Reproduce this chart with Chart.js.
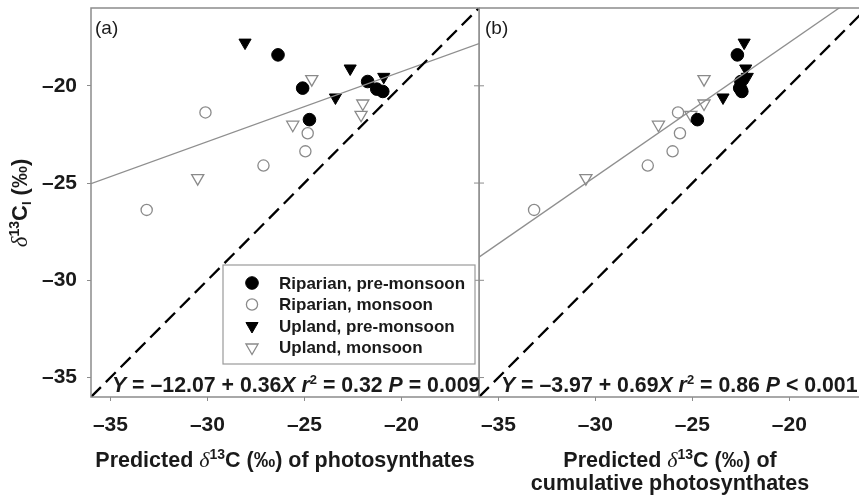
<!DOCTYPE html>
<html>
<head>
<meta charset="utf-8">
<script src="https://cdn.jsdelivr.net/npm/chart.js@4.4.0/dist/chart.umd.min.js"></script>
<style>
  body { margin: 0; background: #fff; width: 859px; height: 498px; overflow: hidden; position: relative; }
  #chartA { position: absolute; left: 0; top: 0; }
  #chartB { position: absolute; left: 479px; top: 0; }
</style>
</head>
<body>
<canvas id="chartA" width="480" height="498"></canvas>
<canvas id="chartB" width="380" height="498"></canvas>
<script>
// tick values
const xTicks = [-35, -30, -25, -20];
const yTicks = [-35, -30, -25, -20];
const seriesNames = ["Riparian, pre-monsoon", "Riparian, monsoon", "Upland, pre-monsoon", "Upland, monsoon"];

// measured d13C of leaves (shared by both panels)
const ripPreY = [-18.41, -20.12, -21.74, -19.78, -20.17, -20.29];
const ripMonY = [-21.37, -23.37, -22.44, -24.10, -26.38];
const upPreY = [-17.78, -19.11, -20.60, -19.54];
const upMonY = [-19.66, -22.00, -20.91, -21.49, -24.75];

// panel (a): predicted d13C of photosynthates
const ripPreXa = [-26.36, -25.09, -24.74, -21.74, -21.27, -20.96];
const ripMonXa = [-30.10, -24.95, -24.83, -27.11, -33.13];
const upPreXa = [-28.06, -22.64, -23.40, -20.91];
const upMonXa = [-24.62, -25.60, -21.99, -22.08, -30.50];

// panel (b): predicted d13C of cumulative photosynthates
const ripPreXb = [-22.68, -22.56, -24.74, -22.50, -22.50, -22.45];
const ripMonXb = [-25.74, -26.02, -25.64, -27.30, -33.16];
const upPreXb = [-22.33, -22.25, -23.42, -22.17];
const upMonXb = [-24.40, -26.75, -24.40, -25.08, -30.49];

// regression lines and 1:1 line (end points)
const fitAx = [-36, -16];
const fitAy = [-25.03, -17.83];
const fitBx = [-36, -16];
const fitBy = [-28.81, -15.01];
const oneToOne = [-36, -16];

const FONT = "'Liberation Sans', Arial, sans-serif";
const INK = "#1a1a1a";
const FRAME = "#8c8c8c";

const markStyles = [
  { pointStyle: "circle", radius: 6.3, bg: "#000", border: "#000", width: 1, rot: 0 },
  { pointStyle: "circle", radius: 5.6, bg: "#fff", border: "#8a8a8a", width: 1.3, rot: 0 },
  { pointStyle: "triangle", radius: 7, bg: "#000", border: "#000", width: 1, rot: 180 },
  { pointStyle: "triangle", radius: 7, bg: "#fff", border: "#8a8a8a", width: 1.3, rot: 180 }
];

function pts(xs, ys) {
  return xs.map((x, i) => ({ x: x, y: ys[i] }));
}

// draw a row of text pieces: [text, font, dy]
function drawRich(ctx, parts, x, y, align) {
  let w = 0;
  parts.forEach(p => { ctx.font = p[1]; w += ctx.measureText(p[0]).width; });
  let cx = align === "center" ? x - w / 2 : x;
  parts.forEach(p => {
    ctx.font = p[1];
    ctx.fillText(p[0], cx, y + (p[2] || 0));
    cx += ctx.measureText(p[0]).width;
  });
  return w;
}

function eqParts(intercept, slope, r2, pText) {
  const b = "bold 21.3px " + FONT;
  const bi = "italic bold 21.3px " + FONT;
  const sup = "bold 13px " + FONT;
  return [
    ["Y", bi], [" = \u2013" + intercept + " + " + slope, b], ["X", bi], [" ", b],
    ["r", bi], ["2", sup, -8], [" = " + r2 + " ", b], ["P", bi], [pText, b]
  ];
}

function titleParts(rest) {
  return [
    ["Predicted ", "bold 21.5px " + FONT],
    ["\u03b4", "italic 22px 'Liberation Serif', serif"],
    ["13", "bold 14px " + FONT, -8],
    [rest, "bold 21.5px " + FONT]
  ];
}

function buildChart(id, xs, fitX, fitY, xMax, isLeft, extra) {
  const ys = [ripPreY, ripMonY, upPreY, upMonY];
  const datasets = [
    { data: pts(oneToOne, oneToOne), showLine: true, borderColor: "#000", borderWidth: 2.3,
      borderDash: [14, 7], pointRadius: 0, fill: false },
    { data: pts(fitX, fitY), showLine: true, borderColor: "#8f8f8f", borderWidth: 1.3,
      pointRadius: 0, fill: false }
  ];
  seriesNames.forEach((name, i) => {
    const st = markStyles[i];
    datasets.push({
      label: name,
      data: pts(xs[i], ys[i]),
      showLine: false,
      pointStyle: st.pointStyle,
      pointRadius: st.radius,
      pointBackgroundColor: st.bg,
      pointBorderColor: st.border,
      pointBorderWidth: st.width,
      pointRotation: st.rot
    });
  });

  const framePlugin = {
    id: "frame",
    afterDraw(chart) {
      const ctx = chart.ctx;
      const a = chart.chartArea;
      ctx.save();
      ctx.strokeStyle = FRAME;
      ctx.lineWidth = 1.5;
      ctx.beginPath();
      if (isLeft) {
        ctx.rect(a.left, a.top, a.right - a.left, a.bottom - a.top);
      } else {
        ctx.moveTo(a.right + 2, a.top);
        ctx.lineTo(a.left, a.top);
        ctx.lineTo(a.left, a.bottom);
        ctx.lineTo(a.right + 2, a.bottom);
      }
      ctx.stroke();
      // ticks on the shared border
      const ysc = chart.scales.y;
      ctx.lineWidth = 1;
      yTicks.forEach(v => {
        const py = ysc.getPixelForValue(v);
        ctx.beginPath();
        if (isLeft) { ctx.moveTo(a.right - 5, py); ctx.lineTo(a.right, py); }
        else { ctx.moveTo(a.left, py); ctx.lineTo(a.left + 5, py); }
        ctx.stroke();
      });
      ctx.fillStyle = INK;
      ctx.textBaseline = "alphabetic";
      extra(ctx, chart);
      ctx.restore();
    }
  };

  return new Chart(document.getElementById(id), {
    type: "scatter",
    data: { datasets: datasets },
    options: {
      responsive: false,
      animation: false,
      events: [],
      layout: { autoPadding: false, padding: { left: 0, top: 8, right: isLeft ? 1 : 0, bottom: 0 } },
      plugins: { legend: { display: false }, tooltip: { enabled: false } },
      scales: {
        x: {
          type: "linear", min: -36, max: xMax,
          afterBuildTicks: s => { s.ticks = xTicks.map(v => ({ value: v })); },
          afterFit: s => { s.height = 101; s.paddingLeft = 0; s.paddingRight = 0; },
          ticks: { font: { family: FONT, size: 21, weight: "bold" }, color: INK, padding: 12,
                   callback: v => "\u2013" + Math.abs(v) },
          grid: { drawOnChartArea: false, tickLength: 4, color: FRAME },
          border: { display: false }
        },
        y: {
          type: "linear", display: isLeft, min: -36, max: -16,
          afterBuildTicks: s => { s.ticks = yTicks.map(v => ({ value: v })); },
          afterFit: s => { s.width = isLeft ? 91 : 0; s.paddingTop = 0; s.paddingBottom = 0; },
          ticks: { font: { family: FONT, size: 21, weight: "bold" }, color: INK, padding: 10,
                   callback: v => "\u2013" + Math.abs(v) },
          grid: { drawOnChartArea: false, tickLength: 4, color: FRAME },
          border: { display: false }
        }
      }
    },
    plugins: [framePlugin]
  });
}

// panel (a)
buildChart("chartA", [ripPreXa, ripMonXa, upPreXa, upMonXa], fitAx, fitAy, -16, true, (ctx, chart) => {
  ctx.font = "19px " + FONT;
  ctx.fillText("(a)", 95, 34);

  // legend box
  ctx.fillStyle = "#fff";
  ctx.fillRect(223, 265, 252, 99);
  ctx.strokeStyle = "#9a9a9a";
  ctx.lineWidth = 1.2;
  ctx.strokeRect(223, 265, 252, 99);
  const rowY = [283, 304.5, 326, 347.5];
  seriesNames.forEach((name, i) => {
    const st = markStyles[i];
    ctx.fillStyle = st.bg;
    ctx.strokeStyle = st.border;
    ctx.lineWidth = st.width;
    Chart.helpers.drawPoint(ctx, { pointStyle: st.pointStyle, radius: st.radius, rotation: st.rot, borderWidth: st.width }, 252, rowY[i]);
    ctx.fillStyle = INK;
    ctx.font = "bold 17px " + FONT;
    ctx.textBaseline = "middle";
    ctx.fillText(name, 279, rowY[i] + 1);
    ctx.textBaseline = "alphabetic";
  });

  ctx.fillStyle = INK;
  drawRich(ctx, eqParts("12.07", "0.36", "0.32", " = 0.009"), 112, 392, "left");

  drawRich(ctx, titleParts("C (\u2030) of photosynthates"), 285, 467, "center");

  // y title
  ctx.save();
  ctx.translate(27, 203);
  ctx.rotate(-Math.PI / 2);
  drawRich(ctx, [
    ["\u03b4", "italic 23px 'Liberation Serif', serif"],
    ["13", "bold 14px " + FONT, -8],
    ["C", "bold 22px " + FONT],
    ["I", "bold 13px " + FONT, 4],
    [" (\u2030)", "bold 22px " + FONT]
  ], 0, 0, "center");
  ctx.restore();
});

// panel (b)
buildChart("chartB", [ripPreXb, ripMonXb, upPreXb, upMonXb], fitBx, fitBy, -16.41, false, (ctx, chart) => {
  ctx.font = "19px " + FONT;
  ctx.fillText("(b)", 6, 34);

  drawRich(ctx, eqParts("3.97", "0.69", "0.86", " < 0.001"), 22, 392, "left");

  drawRich(ctx, titleParts("C (\u2030) of"), 191, 467, "center");
  drawRich(ctx, [["cumulative photosynthates", "bold 21.5px " + FONT]], 191, 490, "center");
});
</script>
</body>
</html>
